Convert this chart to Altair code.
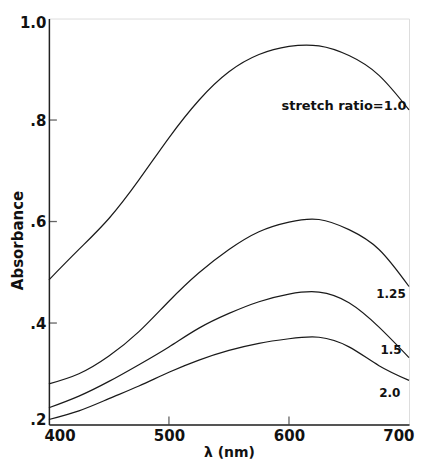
import altair as alt
import pandas as pd

wavelength = [400, 425, 450, 475, 500, 525, 550, 575, 600, 625, 650, 675, 700]
ratio_1_0 = [0.485, 0.545, 0.606, 0.682, 0.765, 0.839, 0.895, 0.929, 0.945, 0.946, 0.927, 0.888, 0.820]
ratio_1_25 = [0.280, 0.300, 0.335, 0.383, 0.443, 0.499, 0.545, 0.580, 0.599, 0.604, 0.584, 0.545, 0.472]
ratio_1_5 = [0.233, 0.256, 0.285, 0.318, 0.353, 0.390, 0.419, 0.442, 0.457, 0.461, 0.440, 0.392, 0.332]
ratio_2_0 = [0.210, 0.227, 0.251, 0.276, 0.303, 0.327, 0.346, 0.360, 0.369, 0.372, 0.353, 0.316, 0.287]

series_names = ["1.0", "1.25", "1.5", "2.0"]
series_values = [ratio_1_0, ratio_1_25, ratio_1_5, ratio_2_0]

label_texts = ["stretch ratio=1.0", "1.25", "1.5", "2.0"]
label_x = [698, 685, 685, 684]
label_y = [0.828, 0.458, 0.346, 0.263]
label_align = ["right", "center", "center", "center"]

x_ticks = [400, 500, 600, 700]
y_ticks = [0.2, 0.4, 0.6, 0.8, 1.0]
x_inner_ticks = [500, 600]
y_inner_ticks = [0.4, 0.6, 0.8]

rows = []
for name, vals in zip(series_names, series_values):
    for w, v in zip(wavelength, vals):
        rows.append({"ratio": name, "wavelength": w, "absorbance": v})
df = pd.DataFrame(rows)

labels_df = pd.DataFrame({"text": label_texts, "wavelength": label_x,
                          "absorbance": label_y, "align": label_align})

FONT = "DejaVu Sans"
x_scale = alt.Scale(domain=[400, 700], nice=False, zero=False)
y_scale = alt.Scale(domain=[0.2, 1.0], nice=False, zero=False)

lines = alt.Chart(df).mark_line(color="#1a1a1a", strokeWidth=1.2, interpolate="natural").encode(
    x=alt.X("wavelength:Q", scale=x_scale,
            axis=alt.Axis(title="λ (nm)", values=x_ticks, ticks=False, grid=False,
                          labelFont=FONT, labelFontSize=15, labelFontWeight="bold",
                          labelColor="#111", labelPadding=4,
                          labelFlush=True, labelFlushOffset=5,
                          titleFont=FONT, titleFontSize=14, titleFontWeight="bold",
                          titleColor="#111", titlePadding=2,
                          domainColor="#222", domainWidth=1.5)),
    y=alt.Y("absorbance:Q", scale=y_scale,
            axis=alt.Axis(title="Absorbance", values=y_ticks, ticks=False, grid=False,
                          labelExpr="datum.value == 1 ? '1.0' : replace(format(datum.value, '.1f'), '0.', '.')",
                          labelFont=FONT, labelFontSize=15, labelFontWeight="bold",
                          labelColor="#111", labelPadding=3,
                          labelFlush=True, labelFlushOffset=3,
                          titleFont=FONT, titleFontSize=15, titleFontWeight="bold",
                          titleColor="#111", titleBaseline="middle",
                          titleX=-31, titleY=222,
                          domainColor="#222", domainWidth=1.5)),
    detail="ratio:N",
)

xt = alt.Chart(pd.DataFrame({"wavelength": x_inner_ticks, "absorbance": [0.2] * len(x_inner_ticks)})).mark_tick(
    orient="vertical", size=8, yOffset=-4, color="#222", thickness=1.3).encode(
    x=alt.X("wavelength:Q", scale=x_scale), y=alt.Y("absorbance:Q", scale=y_scale))

yt = alt.Chart(pd.DataFrame({"wavelength": [400] * len(y_inner_ticks), "absorbance": y_inner_ticks})).mark_tick(
    orient="horizontal", size=8, xOffset=4, color="#222", thickness=1.3).encode(
    x=alt.X("wavelength:Q", scale=x_scale), y=alt.Y("absorbance:Q", scale=y_scale))

text_right = alt.Chart(labels_df[labels_df["align"] == "right"]).mark_text(
    font=FONT, fontSize=13, fontWeight="bold", color="#111", align="right", baseline="middle").encode(
    x=alt.X("wavelength:Q", scale=x_scale), y=alt.Y("absorbance:Q", scale=y_scale), text="text:N")

text_center = alt.Chart(labels_df[labels_df["align"] == "center"]).mark_text(
    font=FONT, fontSize=12, fontWeight="bold", color="#111", align="center", baseline="middle").encode(
    x=alt.X("wavelength:Q", scale=x_scale), y=alt.Y("absorbance:Q", scale=y_scale), text="text:N")

chart = alt.layer(lines, xt, yt, text_right, text_center).properties(
    width=361, height=407,
    autosize=alt.AutoSizeParams(type="none"),
    padding={"left": 41, "top": 10, "right": 6, "bottom": 38},
).configure_view(stroke="#222", strokeWidth=1.5).configure(background="white")

chart.save("out.html", embed_options={"renderer": "svg", "actions": False})
